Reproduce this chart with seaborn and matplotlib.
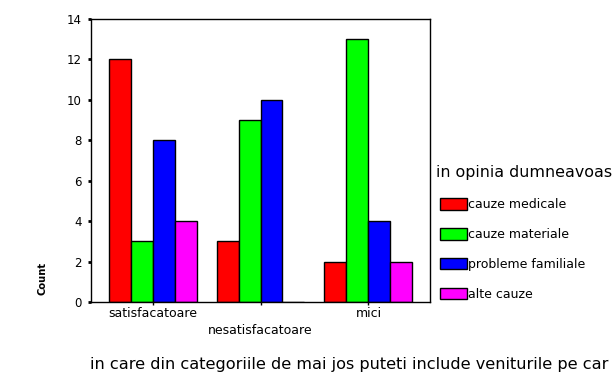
import matplotlib
matplotlib.use("Agg")
import matplotlib.pyplot as plt
import seaborn as sns
import pandas as pd
from matplotlib.patches import Patch

categories = ["satisfacatoare", "nesatisfacatoare", "mici"]
causes = ["cauze medicale", "cauze materiale", "probleme familiale", "alte cauze"]
cauze_medicale = [12, 3, 2]
cauze_materiale = [3, 9, 13]
probleme_familiale = [8, 10, 4]
alte_cauze = [4, 0, 2]
colors = ["#FF0000", "#00FF00", "#0000FF", "#FF00FF"]
yticks = [0, 2, 4, 6, 8, 10, 12, 14]
legend_title = "in opinia dumneavoas"
x_title = "in care din categoriile de mai jos puteti include veniturile pe car"

series = [cauze_medicale, cauze_materiale, probleme_familiale, alte_cauze]
rows = []
for cause, vals in zip(causes, series):
    for cat, v in zip(categories, vals):
        rows.append({"categorie": cat, "cauza": cause, "Count": v})
df = pd.DataFrame(rows)

sns.set_style("white")
plt.rcParams["font.family"] = ["DejaVu Sans"]
plt.rcParams["text.color"] = "black"
plt.rcParams["xtick.color"] = "black"
plt.rcParams["ytick.color"] = "black"

fig = plt.figure(figsize=(6.12, 3.83), dpi=100)
ax = fig.add_axes([91/612, 1-302/383, (430-91)/612, (302-19)/383])

sns.barplot(data=df, x="categorie", y="Count", hue="cauza", order=categories,
            hue_order=causes, palette=colors, edgecolor="black", linewidth=1,
            width=0.815, saturation=1, legend=False, ax=ax)

ax.set_xlim(-0.57, 2.57)
ax.set_ylim(0, 14)
ax.set_yticks(yticks)
ax.set_yticklabels([str(t) for t in yticks])
ax.set_xlabel("")
ax.set_ylabel("")
for s in ax.spines.values():
    s.set_visible(True)
    s.set_color("black")
    s.set_linewidth(1)

ax.tick_params(axis="y", direction="out", length=2.5, width=2, pad=4,
               labelsize=8.5, left=True, colors="black")
ax.tick_params(axis="x", direction="out", length=2.2, width=1, pad=1.5,
               labelsize=9, bottom=True, colors="black")
ax.xaxis.get_major_ticks()[1].set_pad(14)

fig.text(43/612, 1-278/383, "Count", rotation=90, ha="center", va="center",
         fontsize=7.2, fontweight="bold", color="black")
fig.text(90/612, 1-365/383, x_title, ha="left", va="center", fontsize=11.65,
         color="black")

fig.text(436/612, 1-172/383, legend_title, ha="left", va="center",
         fontsize=11.45, color="black")
handles = [Patch(facecolor=c, edgecolor="black", linewidth=1) for c in colors]
leg = fig.legend(handles, causes, loc="upper left",
                 bbox_to_anchor=(440/612, 1-198/383), frameon=False,
                 fontsize=9, handlelength=2.15, handleheight=1.05,
                 handletextpad=0.1, labelspacing=1.35, borderpad=0,
                 borderaxespad=0)
for t in leg.get_texts():
    t.set_color("black")

fig.savefig("out.png", dpi=100)
